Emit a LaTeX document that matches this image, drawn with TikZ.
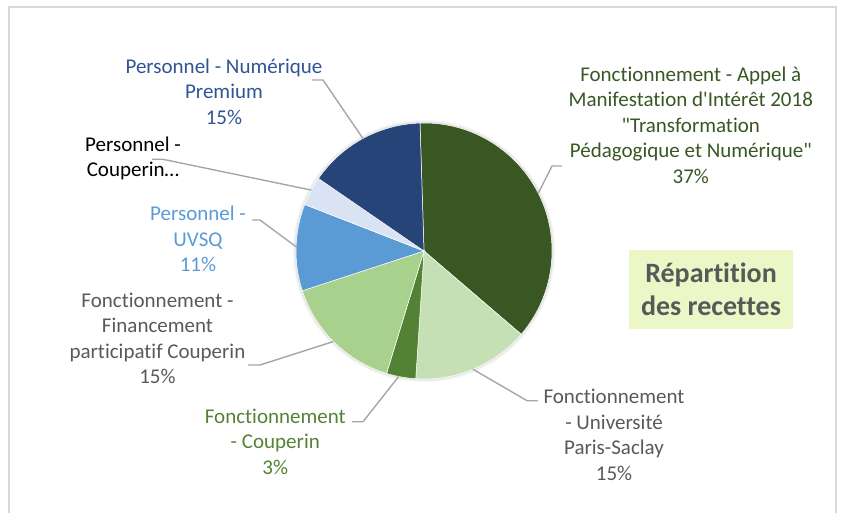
\documentclass[tikz,border=0pt]{standalone}
\usepackage{fontspec}
\setmainfont{Carlito}[Ligatures={TeXOff,CommonOff}]
\usepackage{tikz}
\usetikzlibrary{positioning}

\definecolor{amigreen}{HTML}{385723}
\definecolor{saclaygreen}{HTML}{C5E0B4}
\definecolor{coupgreen}{HTML}{548235}
\definecolor{partgreen}{HTML}{A9D18E}
\definecolor{uvsqblue}{HTML}{5B9BD5}
\definecolor{coupblue}{HTML}{DAE3F3}
\definecolor{premblue}{HTML}{264478}
\definecolor{premtext}{HTML}{2F5597}
\definecolor{labelgrey}{HTML}{595959}
\definecolor{leadergrey}{HTML}{A6A6A6}
\definecolor{framegrey}{HTML}{D9D9D9}
\definecolor{titlefill}{HTML}{EBF7C6}

\begin{document}
\begin{tikzpicture}[
    x=1pt, y=1pt,
    pielabel/.style={align=center, inner sep=0pt, font=\fontsize{21}{25.5}\selectfont},
    leader/.style={leadergrey, line width=1.4pt},
    titlebox/.style={fill=titlefill, minimum width=164pt, minimum height=79pt, align=center, text=labelgrey, font=\fontsize{28}{33}\selectfont\bfseries}
]
\useasboundingbox (0,0) rectangle (841,512);
\draw[framegrey, line width=2pt] (9,-10) rectangle (836,504.5);

% pie
\coordinate (pc) at (424,261);
\foreach \s in {1,...,4}
    \fill[black, opacity=0.035] (pc) circle[radius=127+\s];
\foreach \a/\b/\c in {91.8/-40.6/amigreen, -40.6/-93.7/saclaygreen, -93.7/-107/coupgreen, -107/-161.9/partgreen, -161.9/-201.3/uvsqblue, -201.3/-214.5/coupblue, -214.5/-268.2/premblue}
    \fill[\c, draw=white, line width=0.5pt] (pc) -- ++(\a:128) arc[start angle=\a, end angle=\b, radius=128] -- cycle;

% labels
\node[pielabel, text=premtext] (premium) at (224,420.5) {Personnel - Numérique\\Premium\\15\%};
\node[pielabel, text=black] (couperinp) at (133,353.6) {Personnel -\\Couperin…};
\node[pielabel, text=uvsqblue] (uvsq) at (198,273) {Personnel -\\UVSQ\\11\%};
\node[pielabel, text=labelgrey] (participatif) at (157.5,173.7) {Fonctionnement -\\Financement\\participatif Couperin\\15\%};
\node[pielabel, text=coupgreen] (couperinf) at (275.3,70.3) {Fonctionnement\\- Couperin\\3\%};
\node[pielabel, text=labelgrey] (saclay) at (614,77) {Fonctionnement\\- Université\\Paris-Saclay\\15\%};
\node[pielabel, text=amigreen] (ami) at (690.8,387) {Fonctionnement - Appel à\\Manifestation d'Intérêt 2018\\"Transformation\\Pédagogique et Numérique"\\37\%};

\node[titlebox] (titre) at (711,222.5) {Répartition\\des recettes};

% leader lines
\coordinate (premium-a) at (312,432);
\coordinate (premium-b) at (323,432);
\coordinate (couperinp-a) at (152,352.7);
\coordinate (couperinp-b) at (163,352.7);
\coordinate (uvsq-a) at (252,292);
\coordinate (uvsq-b) at (260,292);
\coordinate (participatif-a) at (248,147);
\coordinate (participatif-b) at (260,147);
\coordinate (couperinf-a) at (352,90.3);
\coordinate (couperinf-b) at (363,90.3);
\coordinate (saclay-a) at (538,111.3);
\coordinate (saclay-b) at (527,111.3);
\coordinate (ami-a) at (562,346);
\coordinate (ami-b) at (552,346);

\draw[leader] (premium-a) -- (premium-b) -- ([shift={(118.5:128)}]pc);
\draw[leader] (couperinp-a) -- (couperinp-b) -- ([shift={(151.6:128)}]pc);
\draw[leader] (uvsq-a) -- (uvsq-b) -- ([shift={(178.1:128)}]pc);
\draw[leader] (participatif-a) -- (participatif-b) -- ([shift={(225:128)}]pc);
\draw[leader] (couperinf-a) -- (couperinf-b) -- ([shift={(258.6:128)}]pc);
\draw[leader] (saclay-a) -- (saclay-b) -- ([shift={(-67.5:128)}]pc);
\draw[leader] (ami-a) -- (ami-b) -- ([shift={(26.8:128)}]pc);

\end{tikzpicture}
\end{document}
